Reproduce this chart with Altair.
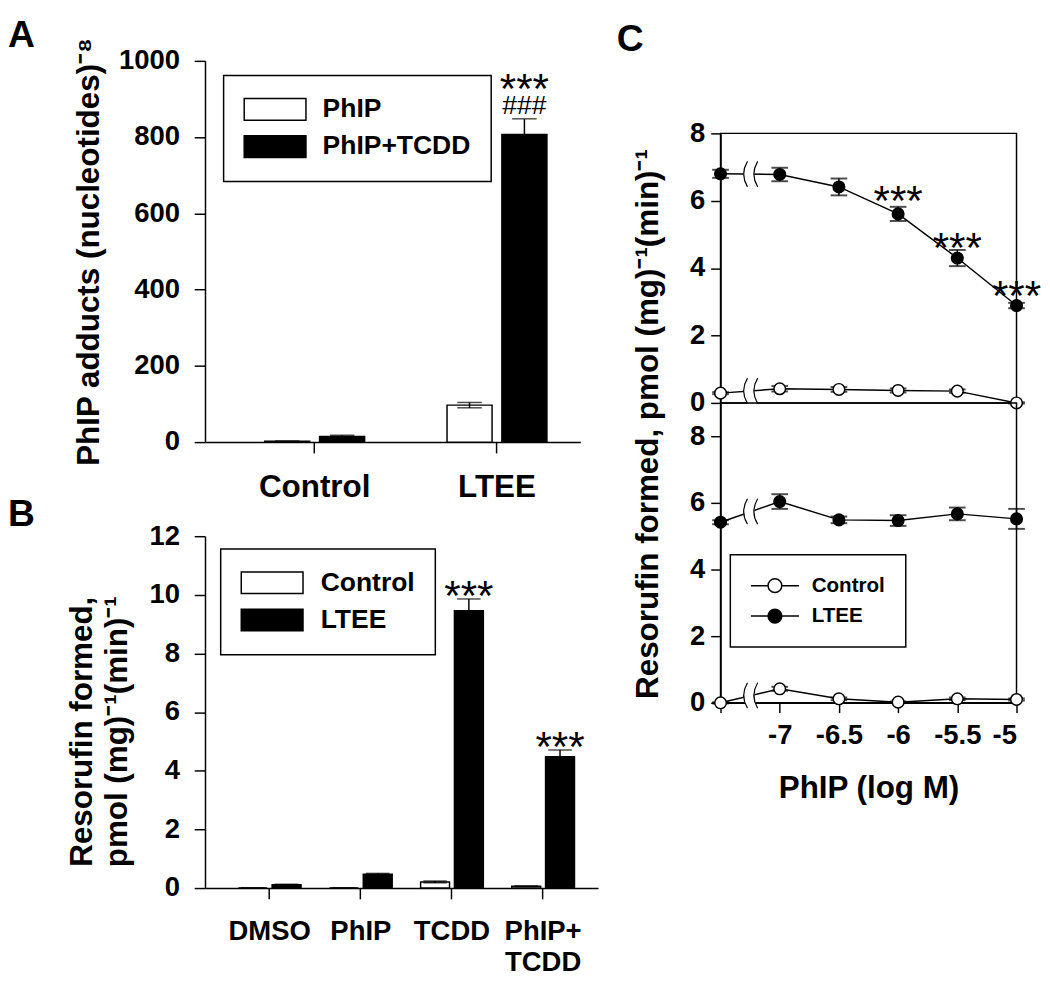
import altair as alt
import pandas as pd

FONT = "Liberation Sans"

# ---------------- Panel A ----------------
A_CATS = ["Control", "LTEE"]
A_GROUPS = ["PhIP", "PhIP+TCDD"]
A_PHIP = [2, 97]
A_PHIP_ERR = [1, 7]
A_PHIP_TCDD = [15, 807]
A_PHIP_TCDD_ERR = [3, 41]
A_YTICKS = [0, 200, 400, 600, 800, 1000]
A_YTITLE = "PhIP adducts (nucleotides)⁻⁸"
A_STAR_Y = [955]
A_HASH_Y = [887]

# ---------------- Panel B ----------------
B_CATS = ["DMSO", "PhIP", "TCDD", "PhIP+\nTCDD"]
B_GROUPS = ["Control", "LTEE"]
B_CONTROL = [0.0, 0.0, 0.21, 0.06]
B_CONTROL_ERR = [0.0, 0.0, 0.03, 0.01]
B_LTEE = [0.11, 0.47, 9.46, 4.48]
B_LTEE_ERR = [0.02, 0.03, 0.40, 0.23]
B_YTICKS = [0, 2, 4, 6, 8, 10, 12]
B_YTITLE = ["Resorufin formed,", "pmol (mg)⁻¹(min)⁻¹"]
B_STAR_CATS = ["TCDD", "PhIP+\nTCDD"]
B_STAR_Y = [10.33, 5.18]

# ---------------- Panel C ----------------
C_X = [-7.5, -7.0, -6.5, -6.0, -5.5, -5.0]
C_XLABELS = ["", "-7", "-6.5", "-6", "-5.5", "-5"]
C_GROUPS = ["Control", "LTEE"]
C_TOP_CONTROL = [0.29, 0.42, 0.40, 0.37, 0.35, 0.00]
C_TOP_CONTROL_ERR = [0.03, 0.08, 0.07, 0.06, 0.05, 0.02]
C_TOP_LTEE = [6.80, 6.78, 6.41, 5.61, 4.30, 2.89]
C_TOP_LTEE_ERR = [0.12, 0.20, 0.25, 0.21, 0.24, 0.08]
C_BOT_CONTROL = [0.00, 0.42, 0.12, 0.02, 0.12, 0.10]
C_BOT_CONTROL_ERR = [0.02, 0.06, 0.04, 0.02, 0.04, 0.03]
C_BOT_LTEE = [5.42, 6.04, 5.49, 5.47, 5.67, 5.52]
C_BOT_LTEE_ERR = [0.06, 0.22, 0.10, 0.16, 0.19, 0.30]
C_YTICKS = [0, 2, 4, 6, 8]
C_TOP_STAR_X = [-6.0, -5.5, -5.0]
C_TOP_STAR_Y = [6.31, 4.91, 3.49]
C_BREAK_X = -7.24
C_YTITLE = "Resorufin formed, pmol (mg)⁻¹(min)⁻¹"
C_XTITLE = "PhIP (log M)"

# symbol paths (legend swatches / axis-break marks)
RECT_PATH = "M-2.864,-1H2.864V1H-2.864Z"
LINE_DOT_PATH = "M-3.5,0H-1A1,1,0,1,1,1,0A1,1,0,1,1,-1,0M1,0H3.5"
BREAK_FILL = "M-0.3,-1Q-0.9,0,-0.3,1L0.5,1Q-0.1,0,0.5,-1Z"
BREAK_LINE = "M-0.3,-1Q-0.9,0,-0.3,1M0.5,-1Q-0.1,0,0.5,1"


def panel_letter(letter, dx, offset):
    return alt.TitleParams(letter, anchor="start", frame="group", dx=dx, offset=offset,
                           fontSize=38, font=FONT, fontWeight="bold", color="black")


def bar_legend(x, y, offset):
    return alt.Legend(orient="none", legendX=x, legendY=y, title=None,
                      symbolType=RECT_PATH, symbolSize=484, symbolOffset=18,
                      symbolStrokeColor="black", symbolStrokeWidth=1.5, symbolOpacity=1,
                      labelFont=FONT, labelFontSize=27, labelFontWeight="bold",
                      labelColor="black", labelOffset=offset, padding=21, rowPadding=9,
                      strokeColor="black", fillColor="white")


def bar_panel(df, cats, groups, x_scale, xo_scale, y_dom, y_ticks, y_title, y_axis_extra,
              x_axis_extra, cap, legend):
    xa = alt.Axis(title=None, labelAngle=0, tickSize=11, **x_axis_extra)
    X = alt.X("cat:N", sort=cats, scale=x_scale, axis=xa)
    XO = alt.XOffset("grp:N", sort=groups, scale=xo_scale)
    ya = alt.Axis(values=y_ticks, title=y_title, tickSize=11, labelPadding=15, format="d",
                  labelFontSize=28, titleFontSize=32, **y_axis_extra)
    ys = alt.Scale(domain=y_dom, nice=False)

    def Y(f):
        return alt.Y(f"{f}:Q", scale=ys, axis=ya)

    base = alt.Chart(df)
    bars = base.mark_bar(stroke="black", strokeWidth=1.5).encode(
        x=X, xOffset=XO, y=Y("v"),
        fill=alt.Fill("grp:N", sort=groups,
                      scale=alt.Scale(domain=groups, range=["white", "black"]),
                      legend=legend))
    err = base.mark_rule(color="black", strokeWidth=1.5).encode(
        x=X, xOffset=XO, y=Y("lo"), y2="hi:Q")
    cap_hi = base.mark_tick(color="black", thickness=1.5, size=cap, orient="horizontal").encode(
        x=X, xOffset=XO, y=Y("hi"))
    cap_lo = base.mark_tick(color="black", thickness=1.5, size=cap, orient="horizontal").encode(
        x=X, xOffset=XO, y=Y("lo"))
    return (X, XO, Y), [bars, err, cap_hi, cap_lo]


def bar_df(cats, groups, vals, errs):
    rows = []
    for i, c in enumerate(cats):
        for g, v, e in zip(groups, vals, errs):
            rows.append(dict(cat=c, grp=g, v=v[i], lo=max(v[i] - e[i], 0), hi=v[i] + e[i]))
    return pd.DataFrame(rows)


# ---- Panel A ----
a_df = bar_df(A_CATS, A_GROUPS, [A_PHIP, A_PHIP_TCDD], [A_PHIP_ERR, A_PHIP_TCDD_ERR])
(aX, aXO, aY), a_layers = bar_panel(
    a_df, A_CATS, A_GROUPS,
    alt.Scale(domain=A_CATS, paddingInner=0.452, paddingOuter=0.2555, align=0.641),
    alt.Scale(domain=A_GROUPS, paddingInner=0.179, paddingOuter=0),
    [0, 1000], A_YTICKS, A_YTITLE, dict(titlePadding=13),
    dict(labelPadding=20, labelFontSize=32),
    25, bar_legend(19, 15, 35))
a_ann = pd.DataFrame({"cat": [A_CATS[1]], "grp": [A_GROUPS[1]],
                      "s": A_STAR_Y, "h": A_HASH_Y})
a_star = alt.Chart(a_ann).mark_text(text="***", font=FONT, fontSize=43, baseline="alphabetic",
                                     dy=25, color="black").encode(x=aX, xOffset=aXO, y=aY("s"))
a_hash = alt.Chart(a_ann).mark_text(text="###", font=FONT, fontSize=27, baseline="alphabetic",
                                     dy=10, color="black").encode(x=aX, xOffset=aXO, y=aY("h"))
chart_a = alt.layer(*a_layers, a_star, a_hash).properties(
    width=383, height=389, title=panel_letter("A", -201, -18))

# ---- Panel B ----
b_df = bar_df(B_CATS, B_GROUPS, [B_CONTROL, B_LTEE], [B_CONTROL_ERR, B_LTEE_ERR])
(bX, bXO, bY), b_layers = bar_panel(
    b_df, B_CATS, B_GROUPS,
    alt.Scale(domain=B_CATS, paddingInner=0.312, paddingOuter=0.312, align=0.586),
    alt.Scale(domain=B_GROUPS, paddingInner=0.145, paddingOuter=0),
    [0, 12], B_YTICKS, B_YTITLE, dict(titlePadding=16, titleLineHeight=36, titleY=199),
    dict(labelPadding=19, labelFontSize=28, labelExpr="split(datum.label, '\\n')",
         labelLineHeight=32),
    24, bar_legend(16, 13, 36))
b_ann = pd.DataFrame({"cat": B_STAR_CATS, "grp": [B_GROUPS[1]] * 2, "s": B_STAR_Y})
b_star = alt.Chart(b_ann).mark_text(text="***", font=FONT, fontSize=43, baseline="alphabetic",
                                     dy=25, color="black").encode(x=bX, xOffset=bXO, y=bY("s"))
chart_b = alt.layer(*b_layers, b_star).properties(
    width=401, height=359, title=panel_letter("B", -201, -12))

left = alt.vconcat(chart_a, chart_b, spacing=96, bounds="flush").resolve_scale(
    x="independent", y="independent", fill="independent", xOffset="independent")


# ---- Panel C ----
def c_df(ctrl, ctrl_e, ltee, ltee_e):
    rows = []
    for g, v, e in zip(C_GROUPS, [ctrl, ltee], [ctrl_e, ltee_e]):
        for i, x in enumerate(C_X):
            rows.append(dict(x=x, grp=g, v=v[i], lo=v[i] - e[i], hi=v[i] + e[i]))
    return pd.DataFrame(rows)


def c_breaks(ctrl, ltee):
    t = (C_BREAK_X - C_X[0]) / (C_X[1] - C_X[0])
    return pd.DataFrame({"x": [C_BREAK_X] * 2,
                         "v": [s[0] + (s[1] - s[0]) * t for s in (ctrl, ltee)]})


xlab_expr = ("[" + ",".join(f"'{s}'" for s in C_XLABELS) + "][indexof(["
             + ",".join(str(v) for v in C_X) + "], datum.value)]")


def c_panel(df, brk, y_dom, x_axis, y_axis, legend, height, extra=()):
    X = alt.X("x:Q", scale=alt.Scale(domain=[C_X[0], C_X[-1]], nice=False, zero=False), axis=x_axis)
    ys = alt.Scale(domain=y_dom, nice=False, zero=False)

    def Y(f):
        return alt.Y(f"{f}:Q", scale=ys, axis=y_axis)

    base = alt.Chart(df)
    line = base.mark_line(color="black", strokeWidth=1.5).encode(x=X, y=Y("v"), detail="grp:N")
    bfill = alt.Chart(brk).mark_point(shape=BREAK_FILL, size=676, filled=True, fill="white",
                                      stroke="white", strokeWidth=0.5, opacity=1).encode(x=X, y=Y("v"))
    bline = alt.Chart(brk).mark_point(shape=BREAK_LINE, size=676, filled=False, fill=None,
                                      stroke="black", strokeWidth=1.2, opacity=1).encode(x=X, y=Y("v"))
    err = base.mark_rule(color="black", strokeWidth=1.5).encode(x=X, y=Y("lo"), y2="hi:Q")
    cap_hi = base.mark_tick(color="black", thickness=2, size=17, orient="horizontal").encode(
        x=X, y=Y("hi"))
    cap_lo = base.mark_tick(color="black", thickness=2, size=17, orient="horizontal").encode(
        x=X, y=Y("lo"))
    pts = base.mark_point(filled=True, shape="circle", size=140, stroke="black",
                          strokeWidth=1.5, opacity=1).encode(
        x=X, y=Y("v"),
        fill=alt.Fill("grp:N", sort=C_GROUPS,
                      scale=alt.Scale(domain=C_GROUPS, range=["white", "black"]),
                      legend=legend))
    layers = [line, bfill, bline, err, cap_hi, cap_lo, pts]
    for make in extra:
        layers.append(make(X, Y))
    return alt.layer(*layers).properties(
        width=302, height=height,
        view=alt.ViewBackground(stroke="black", strokeWidth=1.5))


c_star_df = pd.DataFrame({"x": C_TOP_STAR_X, "v": C_TOP_STAR_Y})


def c_stars(X, Y):
    return alt.Chart(c_star_df).mark_text(text="***", font=FONT, fontSize=43,
                                          baseline="alphabetic", dy=25, color="black").encode(
        x=X, y=Y("v"))


c_yaxis_top = alt.Axis(values=C_YTICKS, title=None, tickSize=10, labelPadding=6, labelFontSize=28)
c_yaxis_bot = alt.Axis(values=C_YTICKS, title=C_YTITLE, tickSize=10, labelPadding=6, labelFontSize=28,
                       titleFontSize=32, titlePadding=26, titleY=21)
c_xaxis_bot = alt.Axis(values=C_X, labelExpr=xlab_expr, title=C_XTITLE, tickSize=10, labelPadding=10,
                       labelFontSize=28, titleFontSize=32, titlePadding=24)
c_legend = alt.Legend(orient="none", legendX=10, legendY=155, title=None,
                      symbolType=LINE_DOT_PATH, symbolSize=196, symbolOffset=14,
                      symbolStrokeColor="black", symbolStrokeWidth=1.5, symbolOpacity=1,
                      labelFont=FONT, labelFontSize=21, labelFontWeight="bold",
                      labelColor="black", labelOffset=27, padding=21, rowPadding=9,
                      strokeColor="black", fillColor="white")

# empty header cell above panel C (carries the panel letter)
c_head = alt.Chart(pd.DataFrame({"s": [""]})).mark_text().encode(text="s:N").properties(
    width=302, height=74, title=panel_letter("C", -106, 2))
c_top = c_panel(c_df(C_TOP_CONTROL, C_TOP_CONTROL_ERR, C_TOP_LTEE, C_TOP_LTEE_ERR),
                c_breaks(C_TOP_CONTROL, C_TOP_LTEE), [0, 8], None, c_yaxis_top, None, 275,
                extra=(c_stars,))
c_bot = c_panel(c_df(C_BOT_CONTROL, C_BOT_CONTROL_ERR, C_BOT_LTEE, C_BOT_LTEE_ERR),
                c_breaks(C_BOT_CONTROL, C_BOT_LTEE), [0, 9], c_xaxis_bot, c_yaxis_bot, c_legend, 306)

right = alt.vconcat(c_head, c_top, c_bot, spacing=0, bounds="flush").resolve_scale(
    y="independent", fill="independent")

chart = alt.hconcat(left, right, spacing=19).resolve_scale(
    x="independent", y="independent", fill="independent"
).properties(padding=0).configure_axis(
    labelFont=FONT, titleFont=FONT, labelFontWeight="bold", titleFontWeight="bold",
    labelColor="black", titleColor="black", domainColor="black", tickColor="black",
    domainWidth=1.5, tickWidth=1.5, grid=False
).configure_legend(strokeWidth=1.5).configure_view(stroke=None)

chart.save("out.html", embed_options={"renderer": "svg", "actions": False})
